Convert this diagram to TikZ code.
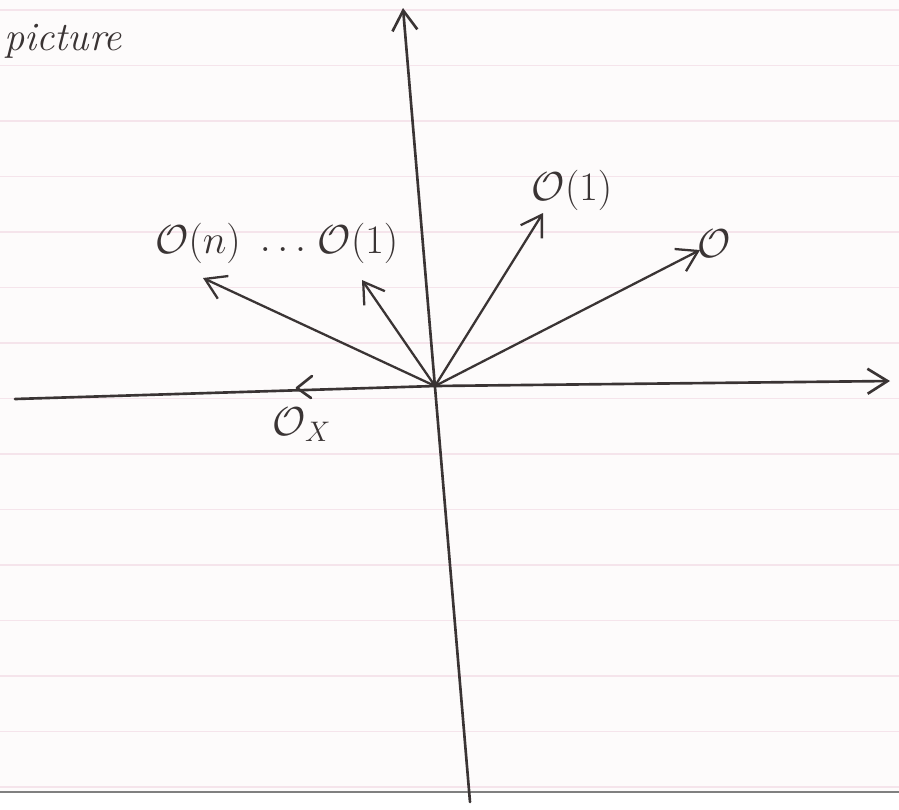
\documentclass[tikz,border=0pt]{standalone}
\usepackage{fix-cm}
\usetikzlibrary{arrows.meta}
\definecolor{ink}{RGB}{58,52,52}
\definecolor{rulecol}{RGB}{245,228,235}
\definecolor{paper}{RGB}{253,251,251}
\begin{document}
\begin{tikzpicture}[x=0.02cm, y=-0.02cm, line join=round, line cap=round,
    >={Straight Barb[length=4mm,width=5mm]},
    axis/.style={ink, line width=1.5pt},
    vec/.style={ink, line width=1.3pt, ->},
    lbl/.style={ink, font=\fontsize{23}{27}\selectfont}]
  \fill[paper] (0,0) rectangle (899,809);
  \useasboundingbox (0,0) rectangle (899,809);
  % ruling of the page
  \foreach \y in {10,65.5,...,790}\draw[rulecol, line width=0.8pt] (0,\y)--(899,\y);
  \fill[white] (0,793) rectangle (899,809);
  \draw[gray, line width=1pt] (0,792)--(899,792);
  % axes
  \coordinate (O) at (435,386);
  \coordinate (xl) at (15,399);
  \coordinate (xr) at (890,381);
  \coordinate (yt) at (403,8);
  \coordinate (yb) at (470,802);
  \draw[axis] (xl) -- (O);
  \draw[axis,->] (O) -- (xr);
  \draw[axis,->] (yb) -- (yt);
  % the sheaves
  \coordinate (t0) at (700,250);
  \coordinate (t1) at (543,213);
  \coordinate (t2) at (362,280);
  \coordinate (tn) at (203,278);
  \foreach \t in {t0,t1,t2,tn}\draw[vec] (O) -- (\t);
  \node[lbl] (l0) at (714,244) {$\mathcal{O}$};
  \node[lbl] (l1) at (572,190) {$\mathcal{O}(1)$};
  \node[lbl] (l2) at (358,243) {$\mathcal{O}(1)$};
  \node[lbl] (ld) at (283,250) {$\dots$};
  \node[lbl] (ln) at (198,243) {$\mathcal{O}(n)$};
  \node[lbl] (lx) at (302,425) {$\mathcal{O}_X$};
  \draw[axis] (312,376) -- (297,388) -- (311,398);
  \node[ink, anchor=base west, inner sep=0pt, font=\fontsize{23}{28}\selectfont\itshape] (title) at (4,50) {picture};
\end{tikzpicture}
\end{document}
